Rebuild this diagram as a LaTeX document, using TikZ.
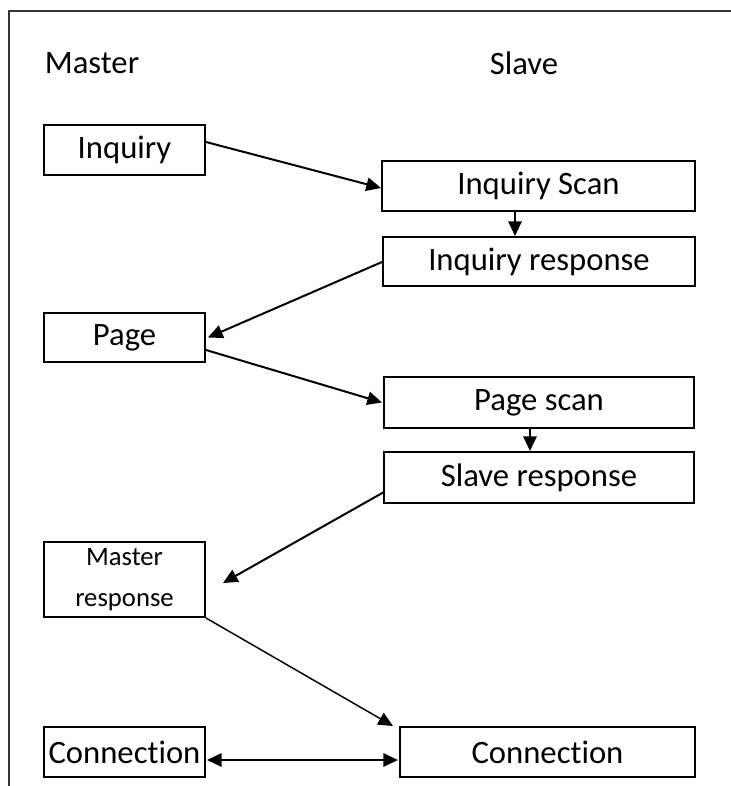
\documentclass[tikz,border=0pt]{standalone}
\usepackage{fontspec}
\setmainfont[Ligatures={NoCommon,NoRare,NoDiscretionary}]{Carlito}
\usetikzlibrary{arrows.meta,calc}
\newlength\pxl
\setlength\pxl{0.75pt}
\begin{document}
\begin{tikzpicture}[x=0.75pt,y=-0.75pt,
  box/.style={draw=black,line width=1.5pt,inner sep=0pt,align=center,
    font=\fontsize{24.5}{28}\selectfont},
  lbl/.style={inner sep=0pt,font=\fontsize{24.5}{28}\selectfont},
  arr/.style={line width=1.5pt,-{Triangle[length=11pt,width=10pt]}},
  darr/.style={line width=1.5pt,{Triangle[length=11pt,width=10pt]}-{Triangle[length=11pt,width=10pt]}}]
\useasboundingbox (0,0) rectangle (731,786);
% frame
\draw[line width=1.6pt,black!80] (9,786) -- (9,11) -- (731,11);
% headers
\node[lbl] (hm) at (92,63) {Master};
\node[lbl] (hs) at (524,63) {Slave};
% boxes
\node[box,minimum width=161\pxl,minimum height=50\pxl] (inq) at (124.5,150) {Inquiry};
\node[box,minimum width=313\pxl,minimum height=50\pxl] (iscan) at (538.5,186) {Inquiry Scan};
\node[box,minimum width=312\pxl,minimum height=49\pxl] (iresp) at (539,261.5) {Inquiry response};
\node[box,minimum width=161\pxl,minimum height=49\pxl] (page) at (124.5,337.5) {Page};
\node[box,minimum width=310\pxl,minimum height=51\pxl] (pscan) at (539,402.5) {Page scan};
\node[box,minimum width=310\pxl,minimum height=51\pxl] (sresp) at (539,477.5) {Slave response};
\node[box,minimum width=161\pxl,minimum height=75\pxl,
  font=\fontsize{20}{31}\selectfont] (mresp) at (124.5,579.5) {Master\\response};
\node[box,minimum width=161\pxl,minimum height=50\pxl] (connl) at (124.5,752) {Connect\kern0pt ion};
\node[box,minimum width=295\pxl,minimum height=50\pxl] (connr) at (547.5,752) {Connect\kern0pt ion};
% connectors
\draw[arr] ($(inq.east)+(0,-8)$) -- ($(iscan.west)+(0,2)$);
\draw[arr] ($(iscan.south)+(-23.5,0)$) -- ($(iresp.north)+(-24,0)$);
\draw[arr] ($(iresp.west)+(0,0.5)$) -- ($(page.east)+(2,0)$);
\draw[arr] ($(page.east)+(0,12.5)$) -- ($(pscan.west)+(-1,0)$);
\draw[arr] ($(pscan.south)+(-9,0)$) -- ($(sresp.north)+(-9,0)$);
\coordinate (mtip) at ($(mresp.east)+(17,3.5)$);
\draw[arr] ($(sresp.west)+(1,14.5)$) -- (mtip);
\draw[arr,line width=1.1pt] (mresp.south east) -- ($(connr.north west)+(-6,0)$);
\draw[darr] ($(connl.east)+(1,8)$) -- ($(connr.west)+(-1,8)$);
\end{tikzpicture}
\end{document}
